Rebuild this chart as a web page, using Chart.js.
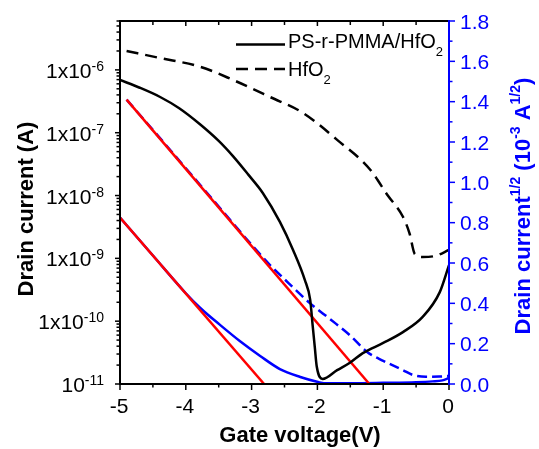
<!DOCTYPE html>
<html><head><meta charset="utf-8">
<script src="https://cdn.jsdelivr.net/npm/chart.js@4.4.0/dist/chart.umd.min.js"></script>
<style>html,body{margin:0;padding:0;background:#fff}#wrap{width:539px;height:449px}</style>
</head><body><div id="wrap"><canvas id="c" width="539" height="449"></canvas></div>
<script>
// ---- data ----
const vPS  = [-5, -4.7, -4.39, -4.1, -3.78, -3.5, -3.28, -3.05, -2.83, -2.57, -2.37, -2.19, -2.11, -2.07, -2.04, -2.01, -1.92, -1.70, -1.50, -1.31, -1.00, -0.70, -0.40, -0.14, 0];
const iPS  = [6.9e-7, 5.2e-7, 3.7e-7, 2.45e-7, 1.35e-7, 7.4e-8, 4.2e-8, 2.15e-8, 1.1e-8, 3.8e-9, 1.36e-9, 4.5e-10, 2.2e-10, 8.1e-11, 3.9e-11, 1.9e-11, 1.2e-11, 1.66e-11, 2.2e-11, 3.1e-11, 4.5e-11, 6.7e-11, 1.17e-10, 2.9e-10, 7.8e-10];
const vHf  = [-4.9, -4.4, -3.78, -3.28, -2.72, -2.22, -1.70, -1.20, -0.93, -0.70, -0.60, -0.52, -0.40, -0.20, 0];
const iHf  = [2.0e-6, 1.55e-6, 1.12e-6, 6.9e-7, 3.7e-7, 2.07e-7, 7.7e-8, 2.6e-8, 1.0e-8, 4.6e-9, 2.5e-9, 1.17e-9, 1.05e-9, 1.1e-9, 1.36e-9];
const vPSs = [-5, -4.5, -4, -3.78, -3.48, -3.18, -2.87, -2.57, -2.26, -1.99, -1.9, -1.5, -1.0, -0.5, -0.25, -0.1, 0];
const sPS  = [0.825, 0.637, 0.45, 0.377, 0.293, 0.213, 0.139, 0.074, 0.035, 0.010, 0.004, 0.004, 0.006, 0.009, 0.013, 0.018, 0.03];
const vHfs = [-4.9, -4.5, -4, -3.5, -3, -2.72, -2.52, -2.11, -1.8, -1.5, -1.245, -1.0, -0.7, -0.55, -0.35, -0.15, 0];
const sHf  = [1.41, 1.26, 1.07, 0.88, 0.69, 0.59, 0.526, 0.40, 0.32, 0.24, 0.159, 0.115, 0.069, 0.045, 0.036, 0.037, 0.04];
const fit1V = [-5, -2.81];
const fit1S = [0.825, 0];
const fit2V = [-4.9, -1.21];
const fit2S = [1.41, 0];

const xTicks = [-5, -4, -3, -2, -1, 0];
const xTickLabels = ['-5', '-4', '-3', '-2', '-1', '0'];
const yTicks = [1e-11, 1e-10, 1e-9, 1e-8, 1e-7, 1e-6];
const yTickMain = ['10', '1x10', '1x10', '1x10', '1x10', '1x10'];
const yTickSup  = ['-11', '-10', '-9', '-8', '-7', '-6'];
const y2Ticks = [0, 0.2, 0.4, 0.6, 0.8, 1.0, 1.2, 1.4, 1.6, 1.8];
const y2TickLabels = ['0.0', '0.2', '0.4', '0.6', '0.8', '1.0', '1.2', '1.4', '1.6', '1.8'];
const legendNames = [['PS-r-PMMA/HfO', '2'], ['HfO', '2']];

const pts = (xs, ys) => xs.map((x, i) => ({x: x, y: ys[i]}));
const FF = "'Liberation Sans', Arial, sans-serif";
const BLUE = '#0000ff', RED = '#ff0000';

function rich(ctx, parts, x, y, align) {
  let w = 0;
  parts.forEach(p => { ctx.font = p.f; p.w = ctx.measureText(p.t).width; w += p.w; });
  let cx = align === 'center' ? x - w / 2 : (align === 'right' ? x - w : x);
  ctx.textAlign = 'left'; ctx.textBaseline = 'alphabetic';
  parts.forEach(p => { ctx.font = p.f; ctx.fillText(p.t, cx, y + (p.dy || 0)); cx += p.w; });
}
function seg(ctx, x1, y1, x2, y2) { ctx.beginPath(); ctx.moveTo(x1, y1); ctx.lineTo(x2, y2); ctx.stroke(); }

const axesPlugin = {
  id: 'axesDraw',
  afterDraw(chart) {
    const ctx = chart.ctx;
    const {left, right, top, bottom} = chart.chartArea;
    const sx = chart.scales.x, sy = chart.scales.y, sy2 = chart.scales.y2;
    ctx.save();
    ctx.strokeStyle = '#000'; ctx.fillStyle = '#000';
    ctx.lineWidth = 1.5;
    for (let i = 0; i < xTicks.length; i++) {
      const px = sx.getPixelForValue(xTicks[i]);
      seg(ctx, px, bottom, px, bottom + 6);
      seg(ctx, px, top, px, top + 5);
      if (i < xTicks.length - 1) {
        const mx = sx.getPixelForValue((xTicks[i] + xTicks[i + 1]) / 2);
        seg(ctx, mx, bottom, mx, bottom + 3.5);
        seg(ctx, mx, top, mx, top + 4);
      }
      ctx.font = '21px ' + FF; ctx.textAlign = 'center'; ctx.textBaseline = 'alphabetic';
      ctx.fillText(xTickLabels[i], px - 1, bottom + 29);
    }
    for (let i = 0; i < yTicks.length; i++) {
      const py = sy.getPixelForValue(yTicks[i]);
      seg(ctx, left - 5, py, left, py);
      for (let k = 2; k <= 9; k++) {
        const v = yTicks[i] * k;
        if (v <= sy.max) { const my = sy.getPixelForValue(v); seg(ctx, left - 3.5, my, left, my); }
      }
      rich(ctx, [{t: yTickMain[i], f: '21px ' + FF}, {t: yTickSup[i], f: '14px ' + FF, dy: -7}], 104, py + 8, 'right');
    }
    ctx.lineWidth = 2;
    seg(ctx, left, top, right, top);
    seg(ctx, left, top - 1, left, bottom + 1);
    seg(ctx, left - 1, bottom, right, bottom);
    ctx.strokeStyle = BLUE; ctx.fillStyle = BLUE;
    seg(ctx, right, top - 1, right, bottom + 1);
    ctx.lineWidth = 1.5;
    for (let i = 0; i < y2Ticks.length; i++) {
      const py = sy2.getPixelForValue(y2Ticks[i]);
      seg(ctx, right, py, right + 6, py);
      if (i < y2Ticks.length - 1) {
        const my = sy2.getPixelForValue((y2Ticks[i] + y2Ticks[i + 1]) / 2);
        seg(ctx, right, my, right + 3.5, my);
      }
      ctx.font = '21px ' + FF; ctx.textAlign = 'left'; ctx.textBaseline = 'alphabetic';
      ctx.fillText(y2TickLabels[i], right + 11, py + 7.5);
    }
    const B = 'bold 22px ' + FF, BS = 'bold 14px ' + FF;
    ctx.fillStyle = '#000';
    rich(ctx, [{t: 'Gate voltage(V)', f: B}], 300, 442, 'center');
    ctx.save(); ctx.translate(33, 209); ctx.rotate(-Math.PI / 2);
    rich(ctx, [{t: 'Drain current (A)', f: B}], 0, 0, 'center');
    ctx.restore();
    ctx.fillStyle = BLUE;
    ctx.save(); ctx.translate(530, 206); ctx.rotate(-Math.PI / 2);
    rich(ctx, [{t: 'Drain current', f: B}, {t: '1/2', f: BS, dy: -10}, {t: ' (10', f: B}, {t: '-3', f: BS, dy: -10},
               {t: ' A', f: B}, {t: '1/2', f: BS, dy: -10}, {t: ')', f: B}], 0, 0, 'center');
    ctx.restore();
    ctx.strokeStyle = '#000'; ctx.fillStyle = '#000'; ctx.lineWidth = 2.5;
    seg(ctx, 236, 44.5, 285, 44.5);
    ctx.setLineDash([12, 7]); seg(ctx, 236, 69, 285, 69); ctx.setLineDash([]);
    rich(ctx, [{t: legendNames[0][0], f: '20px ' + FF}, {t: legendNames[0][1], f: '13px ' + FF, dy: 8}], 288, 48, 'left');
    rich(ctx, [{t: legendNames[1][0], f: '20px ' + FF}, {t: legendNames[1][1], f: '13px ' + FF, dy: 8}], 288, 76, 'left');
    ctx.restore();
  }
};

const ds = (data, axis, color, dash, smooth) => ({
  data: data, yAxisID: axis, borderColor: color, borderWidth: 2.5, borderDash: dash || [],
  pointRadius: 0, fill: false, showLine: true,
  tension: smooth ? 0.4 : 0, cubicInterpolationMode: smooth ? 'monotone' : 'default'
});

new Chart(document.getElementById('c'), {
  type: 'scatter',
  data: {
    datasets: [
      ds(pts(vPS, iPS), 'y', '#000', [], true),
      ds(pts(vHf, iHf), 'y', '#000', [12, 7], true),
      ds(pts(fit1V, fit1S), 'y2', RED),
      ds(pts(fit2V, fit2S), 'y2', RED),
      ds(pts(vPSs, sPS), 'y2', BLUE, [], true),
      ds(pts(vHfs, sHf), 'y2', BLUE, [10, 5], true)
    ]
  },
  options: {
    responsive: false, animation: false, devicePixelRatio: 1,
    layout: {padding: {top: 21, left: 0, right: 0, bottom: 0}},
    plugins: {legend: {display: false}, tooltip: {enabled: false}},
    scales: {
      x: {type: 'linear', position: 'bottom', min: -5, max: 0,
          ticks: {display: false}, grid: {display: false}, border: {display: false},
          afterFit: s => { s.height = 65; }},
      y: {type: 'logarithmic', position: 'left', min: 1e-11, max: 6e-6,
          ticks: {display: false}, grid: {display: false}, border: {display: false},
          afterFit: s => { s.width = 120; }},
      y2: {type: 'linear', position: 'right', min: 0, max: 1.8,
          ticks: {display: false}, grid: {display: false}, border: {display: false},
          afterFit: s => { s.width = 90; }}
    }
  },
  plugins: [axesPlugin]
});
</script></body></html>
